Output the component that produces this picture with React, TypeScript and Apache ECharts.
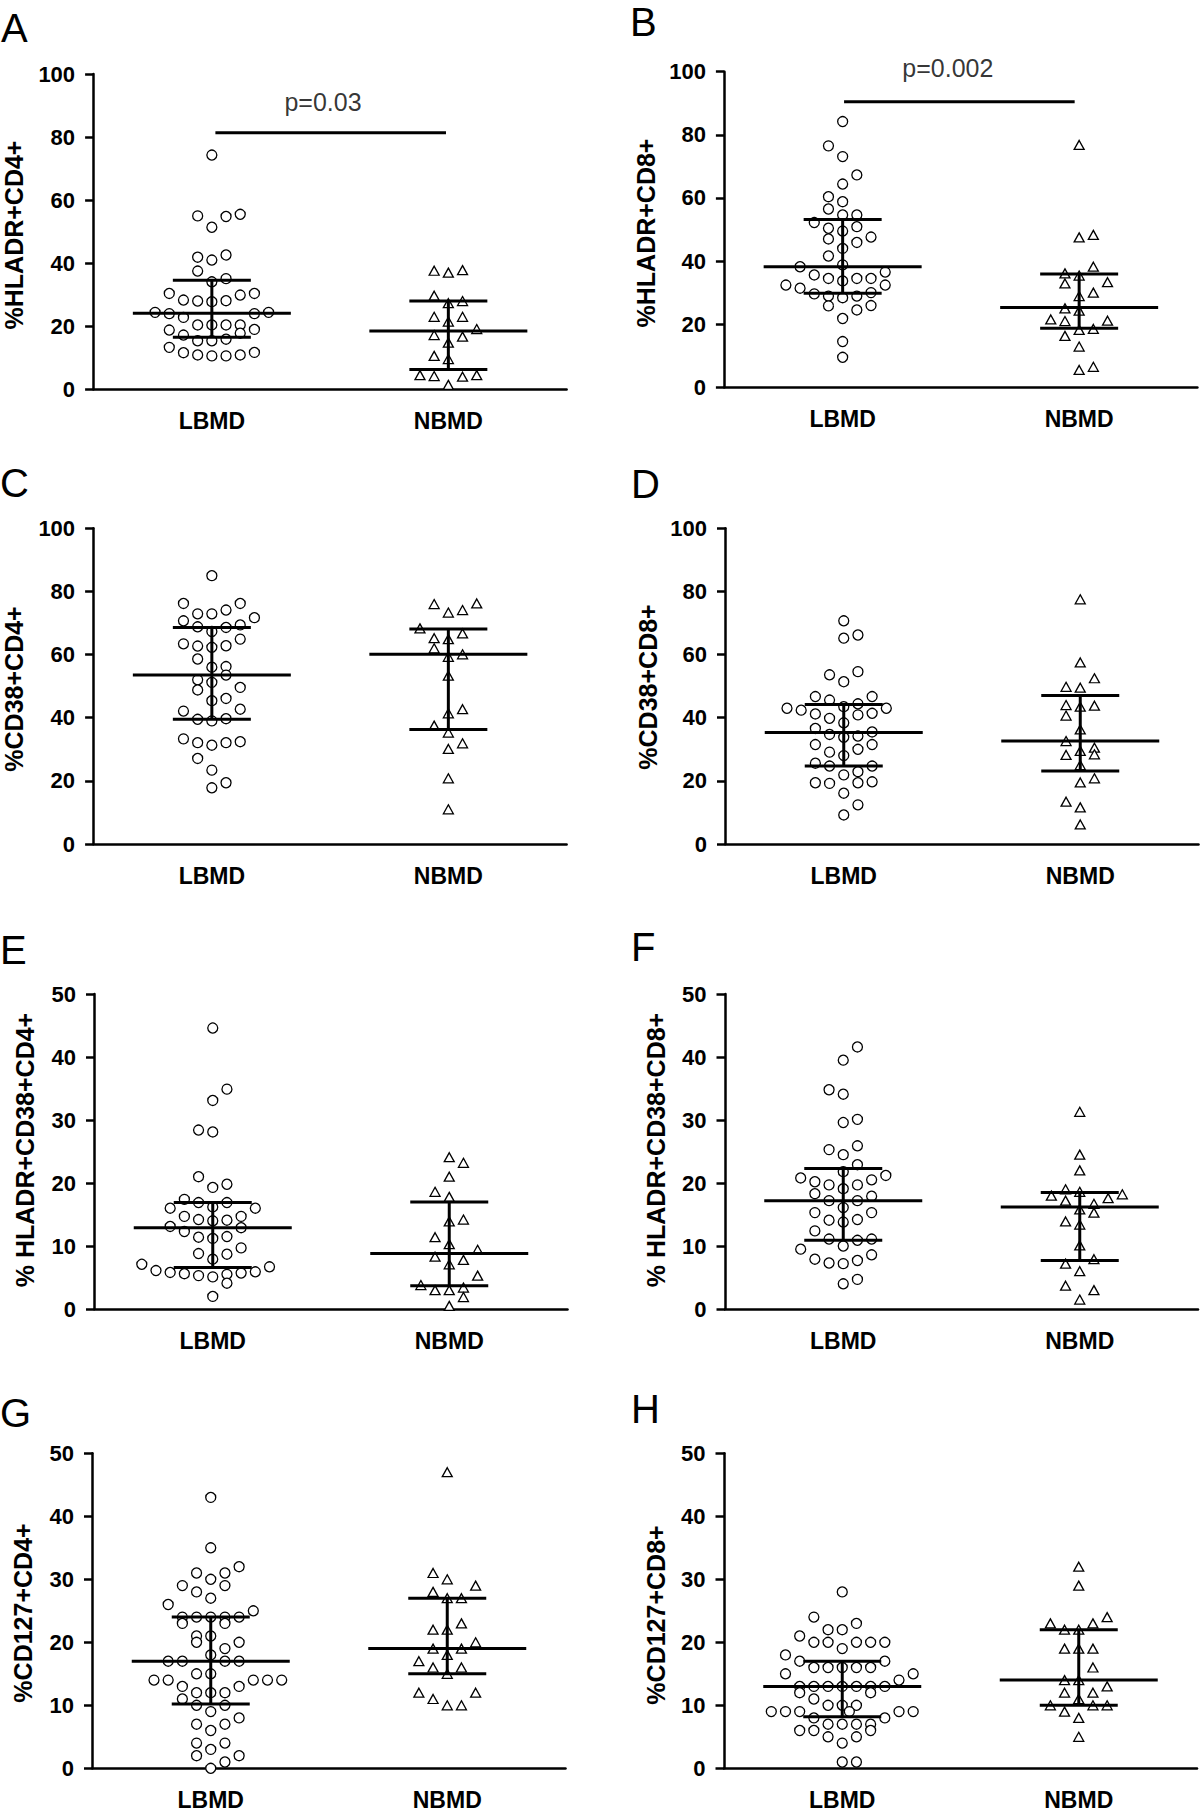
import React, { useEffect, useRef } from "react";
import * as echarts from "echarts";

// ---------- data (column offset in the swarm, value in %) ----------
const CATEGORIES = ["LBMD", "NBMD"];
const CAT_X = [0.5, 1.5];

const A_LBMD: number[][] = [[0,74.3],[-1,55.0],[1,54.8],[2,55.5],[0,51.4],[-1,41.9],[0,41.0],[1,42.6],[-1,37.5],[1,35.1],[0,34.1],[-3,30.4],[2,29.9],[3,30.4],[-2,28.3],[-1,28.0],[0,27.8],[1,28.1],[-4,24.4],[-3,24.0],[-2,22.8],[3,24.0],[4,24.4],[-1,20.4],[0,20.4],[1,20.4],[2,20.4],[-3,18.8],[3,19.0],[-2,17.2],[2,17.8],[-1,15.4],[0,15.4],[1,15.9],[-3,13.3],[-2,11.6],[3,11.7],[2,10.9],[-1,10.9],[0,10.6],[1,10.6]];
const A_NBMD: number[][] = [[-1,37.6],[0,37.0],[1,37.8],[-1,29.7],[1,28.0],[0,27.3],[-1,23.0],[1,23.0],[0,21.5],[2,19.1],[-1,17.2],[1,16.7],[0,14.8],[-1,10.6],[0,9.6],[-2,4.5],[-1,4.2],[1,4.0],[2,4.5],[0,1.4]];
const A_STATS = [[24.1, 16.5, 34.6], [18.5, 6.3, 28.0]]; // median, q1, q3

const B_LBMD: number[][] = [[0,84.2],[-1,76.5],[0,73.1],[1,67.3],[0,64.4],[-1,60.4],[0,58.8],[-1,56.5],[0,54.6],[1,54.6],[-2,52.2],[-1,50.4],[1,50.9],[0,49.5],[-1,47.0],[2,47.6],[1,45.9],[0,44.0],[-1,41.6],[-3,38.2],[0,38.8],[3,36.5],[-2,35.6],[-1,34.5],[1,34.5],[2,34.5],[0,33.7],[-4,32.4],[3,32.4],[-3,31.4],[-2,29.6],[2,30.0],[-1,28.9],[1,28.9],[0,28.4],[-1,25.8],[2,25.9],[1,24.5],[0,21.8],[0,14.5],[0,9.5]];
const B_NBMD: number[][] = [[0,76.8],[0,47.5],[1,48.3],[1,38.2],[-1,36.1],[0,35.4],[-1,32.9],[2,33.3],[0,28.9],[1,30.0],[-1,25.0],[0,24.3],[-2,21.5],[-1,21.0],[2,21.1],[0,18.2],[1,18.5],[-1,16.3],[0,12.9],[0,5.5],[1,6.5]];
const B_STATS = [[38.2, 29.8, 53.2], [25.3, 18.7, 35.9]];

const C_LBMD: number[][] = [[0,85.0],[-2,76.2],[2,76.2],[1,74.1],[-1,72.9],[0,72.9],[3,71.7],[-2,70.7],[2,69.4],[-1,68.8],[1,68.6],[0,67.3],[2,64.9],[-2,63.4],[-1,62.7],[1,62.8],[0,62.3],[-1,58.6],[0,56.0],[1,56.2],[1,53.5],[-1,52.0],[0,51.2],[2,49.6],[-1,48.8],[1,46.1],[0,45.4],[2,42.7],[-2,42.1],[-1,39.5],[1,39.7],[0,39.0],[-2,33.3],[2,32.4],[-1,32.1],[1,32.1],[0,31.3],[-1,27.1],[0,23.4],[1,19.4],[0,17.8]];
const C_NBMD: number[][] = [[-1,76.0],[2,76.2],[1,74.1],[0,73.3],[-2,68.3],[1,66.7],[-1,65.2],[0,64.9],[-1,62.0],[1,60.1],[0,59.3],[0,53.3],[1,42.7],[0,41.4],[-1,37.5],[0,35.3],[1,31.9],[0,30.1],[0,20.8],[0,11.0]];
const C_STATS = [[53.5, 39.5, 68.6], [60.1, 36.3, 68.1]];

const D_LBMD: number[][] = [[0,70.7],[0,65.2],[1,66.2],[-1,53.6],[1,54.6],[0,51.4],[-2,46.7],[2,46.7],[-1,45.6],[1,44.4],[0,43.5],[-4,43.0],[-3,42.4],[3,43.0],[-2,41.2],[1,40.9],[2,41.4],[-1,39.8],[0,38.4],[-2,36.6],[2,35.5],[-1,34.7],[1,34.2],[0,33.8],[-2,31.5],[2,31.5],[1,30.0],[-1,29.1],[0,28.0],[-2,25.6],[-1,24.7],[2,24.7],[1,22.9],[0,21.9],[-2,19.4],[-1,19.2],[1,19.4],[2,19.7],[0,16.1],[1,12.4],[0,9.2]];
const D_NBMD: number[][] = [[0,77.5],[0,57.5],[1,52.5],[-1,49.8],[0,49.5],[-1,44.0],[1,43.8],[0,43.5],[-1,40.7],[0,36.3],[-1,32.6],[1,30.5],[0,29.5],[-1,28.2],[1,28.4],[0,25.0],[1,20.8],[0,19.5],[-1,13.4],[0,11.6],[0,6.2]];
const D_STATS = [[35.3, 24.7, 44.2], [32.6, 23.1, 47.0]];

const E_LBMD: number[][] = [[0,44.6],[1,34.9],[0,33.1],[-1,28.4],[0,28.1],[-1,21.0],[0,19.3],[1,19.8],[-2,17.4],[-1,16.9],[1,16.9],[-3,16.0],[3,16.0],[0,16.2],[-2,14.7],[2,14.7],[-1,14.2],[0,14.0],[1,14.1],[-3,13.1],[2,12.9],[-2,12.3],[-1,11.4],[1,11.5],[0,11.2],[2,9.7],[-1,8.8],[1,8.7],[0,7.9],[-5,7.1],[4,6.7],[-4,6.1],[-3,5.8],[3,5.9],[2,5.7],[-2,5.6],[-1,5.3],[0,5.1],[1,5.5],[1,4.1],[0,2.0]];
const E_NBMD: number[][] = [[0,24.1],[1,23.2],[0,21.0],[-1,18.6],[0,17.8],[0,13.9],[1,14.2],[-1,11.4],[0,10.3],[2,9.4],[-1,8.3],[1,7.8],[0,7.1],[2,5.3],[-2,3.8],[-1,3.0],[0,3.0],[1,3.4],[1,1.9],[0,0.5]];
const E_STATS = [[12.9, 6.6, 16.9], [8.8, 3.7, 17.0]];

const F_LBMD: number[][] = [[1,41.6],[0,39.5],[-1,34.8],[0,34.1],[1,30.1],[0,29.6],[1,25.9],[-1,25.3],[0,24.5],[1,22.9],[0,21.8],[3,21.2],[-3,20.8],[2,20.5],[-2,20.2],[-1,19.7],[1,19.7],[0,19.1],[-2,18.3],[2,17.9],[-1,17.2],[1,17.2],[0,16.1],[-2,15.3],[2,15.3],[-1,14.1],[1,14.2],[0,13.8],[-2,12.4],[-1,11.1],[1,10.9],[2,11.1],[0,10.0],[-3,9.5],[2,8.6],[-2,7.9],[1,7.7],[-1,7.3],[0,7.2],[1,4.7],[0,4.0]];
const F_NBMD: number[][] = [[0,31.3],[0,24.5],[0,22.0],[-1,19.0],[0,18.6],[-2,18.0],[3,18.2],[2,17.6],[-1,17.2],[1,16.7],[0,15.8],[1,15.3],[-1,13.9],[0,13.4],[0,10.1],[1,7.9],[-1,7.2],[0,6.0],[-1,3.7],[1,3.0],[0,1.5]];
const F_STATS = [[17.2, 10.9, 22.3], [16.2, 7.7, 18.5]];

const G_LBMD: number[][] = [[0,43],[0,35],[2,32],[-1,31],[1,31],[0,30],[-2,29],[1,29],[-1,28],[0,27],[-3,26],[3,25],[-2,24],[-1,24],[0,24],[1,24],[2,24],[-2,23],[1,23],[-1,21],[0,21],[-1,20],[2,20],[1,19],[0,18],[-3,17],[-2,17],[1,17],[2,17],[-1,15],[0,15],[-4,14],[-3,14],[3,14],[4,14],[5,14],[-2,13],[2,13],[-1,12],[0,12],[1,12],[-2,11],[-1,10],[1,10],[0,9],[2,8],[-1,7],[1,7],[0,6],[-1,4],[1,4],[0,3],[-1,2],[2,2],[1,1],[0,0]];
const G_NBMD: number[][] = [[0,47],[-1,31],[0,30],[2,29],[-1,28],[0,27],[1,27],[1,23],[-1,22],[0,22],[2,20],[-1,19],[1,19],[0,18],[-2,17],[-1,16],[1,16],[0,15],[-2,12],[2,12],[-1,11],[0,10],[1,10]];
const G_STATS = [[17, 10.2, 24], [19, 15, 27]];

const H_LBMD: number[][] = [[0,28],[-2,24],[1,23],[-1,22],[0,22],[-3,21],[-2,20],[-1,20],[1,20],[2,20],[3,20],[0,19],[-4,18],[-3,17],[3,17],[-2,16],[-1,16],[0,16],[1,16],[2,16],[-4,15],[5,15],[4,14],[-3,13],[-2,13],[-1,13],[0,13],[1,13],[2,13],[3,13],[-3,12],[2,12],[-2,11],[-1,10],[0,10],[1,10],[-5,9],[-4,9],[-3,9],[0.5,9],[4,9],[5,9],[-2,8],[3,8],[-1,7],[0,7],[1,7],[2,7],[-3,6],[-2,6],[2,6],[-1,5],[1,5],[0,4],[0,1],[1,1]];
const H_NBMD: number[][] = [[0,32],[0,29],[2,24],[-2,23],[1,23],[-1,22],[0,22],[-1,19],[0,19],[1,19],[1,16],[-1,14],[0,14],[2,13],[-1,12],[1,12],[0,11],[-2,10],[1,10],[2,10],[-1,9],[0,8],[0,5]];
const H_STATS = [[13, 8.2, 17], [14, 10, 22]];

const PANEL_LETTERS = ["A", "B", "C", "D", "E", "F", "G", "H"];
const Y_TITLES = ["%HLADR+CD4+", "%HLADR+CD8+", "%CD38+CD4+", "%CD38+CD8+", "% HLADR+CD38+CD4+", "% HLADR+CD38+CD8+", "%CD127+CD4+", "%CD127+CD8+"];
const Y_MAX = [100, 100, 100, 100, 50, 50, 50, 50];
const Y_STEP = [20, 20, 20, 20, 10, 10, 10, 10];
const LBMD_SETS = [A_LBMD, B_LBMD, C_LBMD, D_LBMD, E_LBMD, F_LBMD, G_LBMD, H_LBMD];
const NBMD_SETS = [A_NBMD, B_NBMD, C_NBMD, D_NBMD, E_NBMD, F_NBMD, G_NBMD, H_NBMD];
const STATS = [A_STATS, B_STATS, C_STATS, D_STATS, E_STATS, F_STATS, G_STATS, H_STATS];

// significance annotations: panel index, x-from, x-to, bar value, label, label x, label value
const SIG_PANELS = [0, 1];
const SIG_BARS = [[0.515, 1.49, 81.4], [0.506, 1.481, 90.5]];
const SIG_LABELS = ["p=0.03", "p=0.002"];
const SIG_LABEL_POS = [[0.97, 91.2], [0.945, 101.2]];

// ---------- layout ----------
const COL = 0.06; // swarm column spacing in x units
const LAYOUT = [
  { left: 93.6, top: 74, height: 315.3, lx: 1, ly: 28.3, tx: 14.3, ty: 235 },
  { left: 724.4, top: 71.7, height: 315.6, lx: 630, ly: 21.7, tx: 646, ty: 233 },
  { left: 93.6, top: 528.3, height: 315.7, lx: 0, ly: 482.8, tx: 14.3, ty: 689 },
  { left: 725.5, top: 528.3, height: 315.7, lx: 631, ly: 484, tx: 647.5, ty: 687 },
  { left: 94.5, top: 994, height: 315, lx: 0, ly: 950, tx: 25, ty: 1150 },
  { left: 725, top: 994, height: 315, lx: 631, ly: 946.5, tx: 655.5, ty: 1150 },
  { left: 92.5, top: 1453.3, height: 315, lx: 0, ly: 1412.5, tx: 23, ty: 1613 },
  { left: 724, top: 1453.3, height: 315, lx: 631, ly: 1409, tx: 655.5, ty: 1615 },
];
const GRID_W = 473;
const FONT = "'Liberation Sans', Arial, Helvetica, sans-serif";

function buildOption() {
  const grid: any[] = [];
  const xAxis: any[] = [];
  const yAxis: any[] = [];
  const series: any[] = [];
  const graphic: any[] = [];

  LAYOUT.forEach((L, i) => {
    grid.push({ left: L.left, top: L.top, width: GRID_W, height: L.height, containLabel: false });
    xAxis.push({
      type: "category", gridIndex: i, data: CATEGORIES, boundaryGap: true,
      axisLine: { lineStyle: { color: "#000", width: 2.5 } },
      axisTick: { alignWithLabel: true, length: 8, lineStyle: { color: "#000", width: 2.5 } },
      axisLabel: { color: "#000", fontFamily: FONT, fontWeight: "bold", fontSize: 23, margin: 20 },
      splitLine: { show: false },
    });
    xAxis.push({ type: "value", gridIndex: i, min: 0, max: 2, show: false });
    yAxis.push({
      type: "value", gridIndex: i, min: 0, max: Y_MAX[i], interval: Y_STEP[i],
      axisLine: { show: true, lineStyle: { color: "#000", width: 2.5 } },
      axisTick: { show: true, length: 8.5, lineStyle: { color: "#000", width: 2.5 } },
      axisLabel: { color: "#000", fontFamily: FONT, fontWeight: "bold", fontSize: 22, margin: 18.5 },
      splitLine: { show: false },
    });

    const xi = 2 * i + 1;
    series.push({
      type: "scatter", xAxisIndex: xi, yAxisIndex: i, symbol: "circle", symbolSize: 10,
      itemStyle: { color: "#fff", borderColor: "#000", borderWidth: 1.3, opacity: 1 },
      data: LBMD_SETS[i].map((p) => [CAT_X[0] + p[0] * COL, p[1]]), z: 2,
    });
    series.push({
      type: "scatter", xAxisIndex: xi, yAxisIndex: i, symbol: "triangle", symbolSize: [10, 9],
      itemStyle: { color: "#fff", borderColor: "#000", borderWidth: 1.3, opacity: 1 },
      data: NBMD_SETS[i].map((p) => [CAT_X[1] + p[0] * COL, p[1]]), z: 2,
    });
    series.push({
      type: "custom", xAxisIndex: xi, yAxisIndex: i, z: 5,
      encode: { x: 0, y: [1, 2, 3] },
      data: STATS[i].map((s, k) => [CAT_X[k], s[0], s[1], s[2]]),
      renderItem: (params: any, api: any) => {
        const x = api.value(0);
        const pm = api.coord([x, api.value(1)]);
        const p1 = api.coord([x, api.value(2)]);
        const p3 = api.coord([x, api.value(3)]);
        const st = { stroke: "#000", lineWidth: 3 };
        return {
          type: "group",
          children: [
            { type: "line", shape: { x1: pm[0] - 79, y1: pm[1], x2: pm[0] + 79, y2: pm[1] }, style: st },
            { type: "line", shape: { x1: pm[0] - 39, y1: p1[1], x2: pm[0] + 39, y2: p1[1] }, style: st },
            { type: "line", shape: { x1: pm[0] - 39, y1: p3[1], x2: pm[0] + 39, y2: p3[1] }, style: st },
            { type: "line", shape: { x1: pm[0], y1: p1[1], x2: pm[0], y2: p3[1] }, style: st },
          ],
        };
      },
    });

    graphic.push({
      type: "text", x: L.lx, y: L.ly,
      style: { text: PANEL_LETTERS[i], font: `normal 40px ${FONT}`, fill: "#000", align: "left", verticalAlign: "middle" },
    });
    graphic.push({
      type: "text", x: L.tx, y: L.ty, rotation: Math.PI / 2,
      style: { text: Y_TITLES[i], font: `bold 25px ${FONT}`, fill: "#000", align: "center", verticalAlign: "middle" },
    });
  });

  SIG_PANELS.forEach((pi, k) => {
    const b = SIG_BARS[k];
    series.push({
      type: "line", xAxisIndex: 2 * pi + 1, yAxisIndex: pi, symbol: "none", z: 5,
      lineStyle: { color: "#000", width: 3 },
      data: [[b[0], b[2]], [b[1], b[2]]],
    });
    series.push({
      type: "scatter", xAxisIndex: 2 * pi + 1, yAxisIndex: pi, clip: false, symbol: "circle", symbolSize: 1,
      itemStyle: { color: "rgba(0,0,0,0)" },
      label: { show: true, position: "inside", formatter: SIG_LABELS[k], color: "#000", fontFamily: FONT, fontSize: 25, fontWeight: "normal" },
      data: [SIG_LABEL_POS[k]], z: 6,
    });
  });

  return { animation: false, backgroundColor: "#fff", grid, xAxis, yAxis, series, graphic };
}

export default function App() {
  const ref = useRef<HTMLDivElement>(null);
  useEffect(() => {
    if (!ref.current) return;
    const chart = echarts.init(ref.current, undefined, { renderer: "svg" });
    chart.setOption(buildOption() as any);
    return () => chart.dispose();
  }, []);
  return <div ref={ref} style={{ position: "absolute", left: 0, top: 0, width: 1200, height: 1813, background: "#fff" }} />;
}
